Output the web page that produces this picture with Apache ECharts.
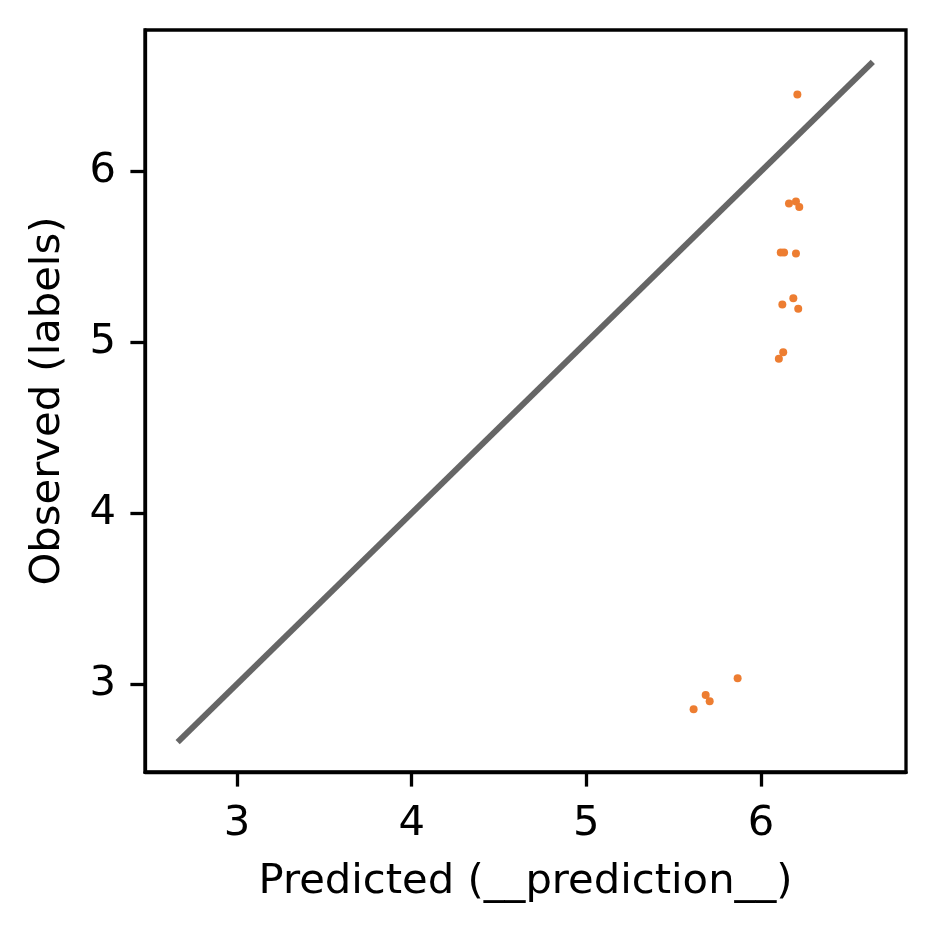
<!DOCTYPE html>
<html>
<head>
<meta charset="utf-8">
<script src="https://cdn.jsdelivr.net/npm/echarts@6/dist/echarts.min.js"></script>
<style>html,body{margin:0;padding:0;background:#fff;}#c{width:934px;height:934px;}</style>
</head>
<body>
<div id="c"></div>
<script>
const predicted = [6.208, 6.160, 6.200, 6.219, 6.113, 6.132, 6.200, 6.122, 6.185, 6.213, 6.102, 6.127, 5.866, 5.683, 5.706, 5.614];
const observed  = [6.449, 5.811, 5.823, 5.791, 5.524, 5.524, 5.519, 5.220, 5.256, 5.195, 4.902, 4.940, 3.033, 2.936, 2.899, 2.852];
const identityLine = [2.66, 6.64];
const xTicks = [3, 4, 5, 6];
const yTicks = [3, 4, 5, 6];

const font = 'DejaVu Sans';
const fs = 41.7;
const chart = echarts.init(document.getElementById('c'), null, {renderer: 'canvas'});
const axisCommon = {
  type: 'value',
  axisLine: {show: true, onZero: false, lineStyle: {color: '#000', width: 3.3}},
  axisTick: {show: true, inside: false, length: 14.6, lineStyle: {color: '#000', width: 3.3}},
  splitLine: {show: false},
  axisLabel: {color: '#000', fontFamily: font, fontSize: fs, margin: 31},
  nameLocation: 'middle',
  nameTextStyle: {color: '#000', fontFamily: font, fontSize: fs}
};
chart.setOption({
  animation: false,
  backgroundColor: '#fff',
  grid: {left: 145, top: 30, width: 761, height: 742, show: true, borderColor: '#000', borderWidth: 3.3, containLabel: false},
  xAxis: Object.assign({}, axisCommon, {
    min: 2.473, max: 6.83,
    name: 'Predicted (__prediction__)', nameGap: 89,
    axisTick: Object.assign({}, axisCommon.axisTick, {customValues: xTicks}),
    axisLabel: Object.assign({}, axisCommon.axisLabel, {customValues: xTicks})
  }),
  yAxis: Object.assign({}, axisCommon, {
    min: 2.485, max: 6.826,
    name: 'Observed (labels)', nameGap: 76,
    axisTick: Object.assign({}, axisCommon.axisTick, {customValues: yTicks}),
    axisLabel: Object.assign({}, axisCommon.axisLabel, {customValues: yTicks, margin: 29})
  }),
  series: [
    {
      type: 'line',
      data: identityLine.map(v => [v, v]),
      symbol: 'none',
      lineStyle: {color: '#666666', width: 6},
      z: 2
    },
    {
      type: 'scatter',
      data: predicted.map((p, i) => [p, observed[i]]),
      symbolSize: 8,
      itemStyle: {color: '#ED7D31', opacity: 1},
      z: 3
    }
  ]
});
</script>
</body>
</html>
